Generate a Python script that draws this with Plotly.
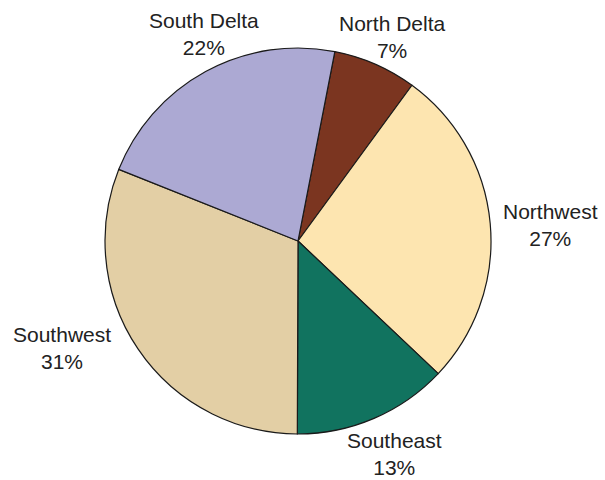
import plotly.graph_objects as go

labels = ["North Delta", "Northwest", "Southeast", "Southwest", "South Delta"]
values = [7, 27, 13, 31, 22]
colors = ["#7B3520", "#FDE5B0", "#11735F", "#E3CFA5", "#ACA9D3"]
# label text positions (paper coordinates)
label_x = [0.746, 1.153, 0.751, -0.111, 0.2565]
label_y = [1.028, 0.541, -0.052, 0.222, 1.036]

fig = go.Figure(go.Pie(
    labels=labels,
    values=values,
    sort=False,
    direction="clockwise",
    rotation=11,
    marker=dict(colors=colors, line=dict(color="#1a1a1a", width=1.2)),
    textinfo="none",
    showlegend=False,
    hoverinfo="label+percent",
))

total = sum(values)
for lab, val, x, y in zip(labels, values, label_x, label_y):
    fig.add_annotation(
        x=x, y=y, xref="paper", yref="paper",
        text=f"{lab}<br>{round(100 * val / total)}%",
        showarrow=False, xanchor="center", yanchor="middle", borderpad=0,
        font=dict(family="Liberation Sans, Arial, sans-serif", size=21, color="#222222"),
    )

fig.update_layout(
    width=605, height=480,
    margin=dict(l=105, r=114, t=48, b=46),
    paper_bgcolor="white",
    plot_bgcolor="white",
)

fig.write_html("out.html")
